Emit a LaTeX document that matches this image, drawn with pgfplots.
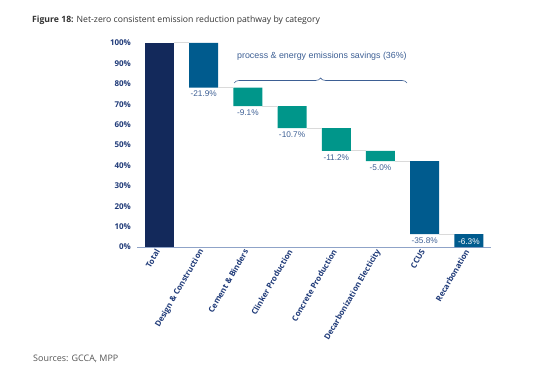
\documentclass[border=0pt]{standalone}
\usepackage{pgfplots}
\usepackage{pgfplotstable}
\pgfplotsset{compat=1.18}
\usepackage{fontspec}
\setmainfont{Open Sans}
\newfontfamily\arialf{Liberation Sans}
\usetikzlibrary{decorations.pathreplacing}
\definecolor{navy}{HTML}{13295B}
\definecolor{cblue}{HTML}{005B8E}
\definecolor{teal2}{HTML}{00968A}
\definecolor{ticklab}{HTML}{1F3A78}
\definecolor{vallab}{HTML}{3D5F94}
\definecolor{conn}{HTML}{DADADA}
\definecolor{axisc}{HTML}{8FA3C8}
\definecolor{titlec}{HTML}{333333}
\definecolor{srcc}{HTML}{555555}

\pgfplotstableread{
x base navy blue teal
0 0 100 0 0
1 78.1 0 21.9 0
2 69.0 0 0 9.1
3 58.3 0 0 10.7
4 47.1 0 0 11.2
5 42.1 0 0 5.0
6 6.3 0 35.8 0
7 0 0 6.3 0
}\wfdata

\pgfplotsset{wfbase/.style={scale only axis, width=353.6bp, height=204bp,
  xmin=-0.5, xmax=7.5, ymin=0, ymax=100, enlargelimits=false}}

\begin{document}
\begin{tikzpicture}
\begin{axis}[wfbase, ybar stacked, bar width=29bp,
  axis x line*=bottom, axis y line*=left,
  y axis line style={draw=none},
  x axis line style={axisc, line width=0.9bp},
  major tick length=0pt,
  ytick={0,10,...,100},
  yticklabel={\pgfmathprintnumber{\tick}\%},
  /pgf/number format/assume math mode=true,
  yticklabel style={font=\fontsize{8}{9}\selectfont\bfseries, color=ticklab, xshift=-3bp},
  xtick={0,...,7},
  xticklabels={Total, Design \& Construction, Cement \& Binders, Clinker Production, Concrete Production, Decarbonization Electicity, CCUS, Recarbonation},
  xticklabel style={rotate=60, anchor=east, font=\fontsize{8}{9}\selectfont\bfseries, color=ticklab},
]
\addplot[draw=none, fill=none] table[x=x, y=base]{\wfdata};
\addplot[draw=none, fill=navy] table[x=x, y=navy]{\wfdata};
\addplot[draw=none, fill=cblue] table[x=x, y=blue]{\wfdata};
\addplot[draw=none, fill=teal2] table[x=x, y=teal]{\wfdata};
\end{axis}

\begin{axis}[wfbase, axis lines=none, clip=false, unbounded coords=jump]
% connectors
\addplot[conn, line width=1bp, no marks] coordinates {
 (0.328,100) (0.672,100) (0.7,nan)
 (1.328,78.1) (1.672,78.1) (1.7,nan)
 (2.328,69.0) (2.672,69.0) (2.7,nan)
 (3.328,58.3) (3.672,58.3) (3.7,nan)
 (4.328,47.1) (4.672,47.1) (4.7,nan)
 (5.328,42.1) (5.672,42.1) (5.7,nan)
 (6.328,6.3) (6.672,6.3)
};
% value labels
\addplot[draw=none, mark=none, nodes near coords, point meta=explicit symbolic,
  every node near coord/.append style={anchor=north, yshift=0bp, color=vallab, font=\arialf\fontsize{8.3}{9}\selectfont}]
coordinates {
 (1,78.1) [-21.9\%]
 (2,69.0) [-9.1\%]
 (3,58.3) [-10.7\%]
 (4,47.1) [-11.2\%]
 (5,42.1) [-5.0\%]
 (6,6.3) [-35.8\%]
};
\addplot[draw=none, mark=none, nodes near coords, point meta=explicit symbolic,
  every node near coord/.append style={anchor=south, yshift=-1.5bp, color=white, font=\arialf\fontsize{8.3}{9}\selectfont}]
coordinates {
 (7,0) [-6.3\%]
};
\draw[decorate, decoration={brace, amplitude=5bp}, vallab, line width=0.6bp]
  (axis cs:1.69,80.4) -- (axis cs:5.60,80.4);
\node[anchor=west, inner sep=0pt, font=\arialf\fontsize{8.9}{10}\selectfont, color=vallab]
  at (axis cs:1.753,93.3) {process \& energy emissions savings (36\%)};
\end{axis}

\node[anchor=west, inner sep=0pt, font=\fontsize{8.7}{10}\selectfont, color=titlec]
  at (-105.4bp,226.3bp) {\textbf{Figure 18:} Net-zero consistent emission reduction pathway by category};
\node[anchor=west, inner sep=0pt, font=\fontsize{9}{10}\selectfont, color=srcc]
  at (-104.4bp,-112bp) {Sources: GCCA, MPP};

\pgfresetboundingbox
\path (-137.4bp,-130bp) rectangle (422.6bp,247bp);
\end{tikzpicture}
\end{document}
